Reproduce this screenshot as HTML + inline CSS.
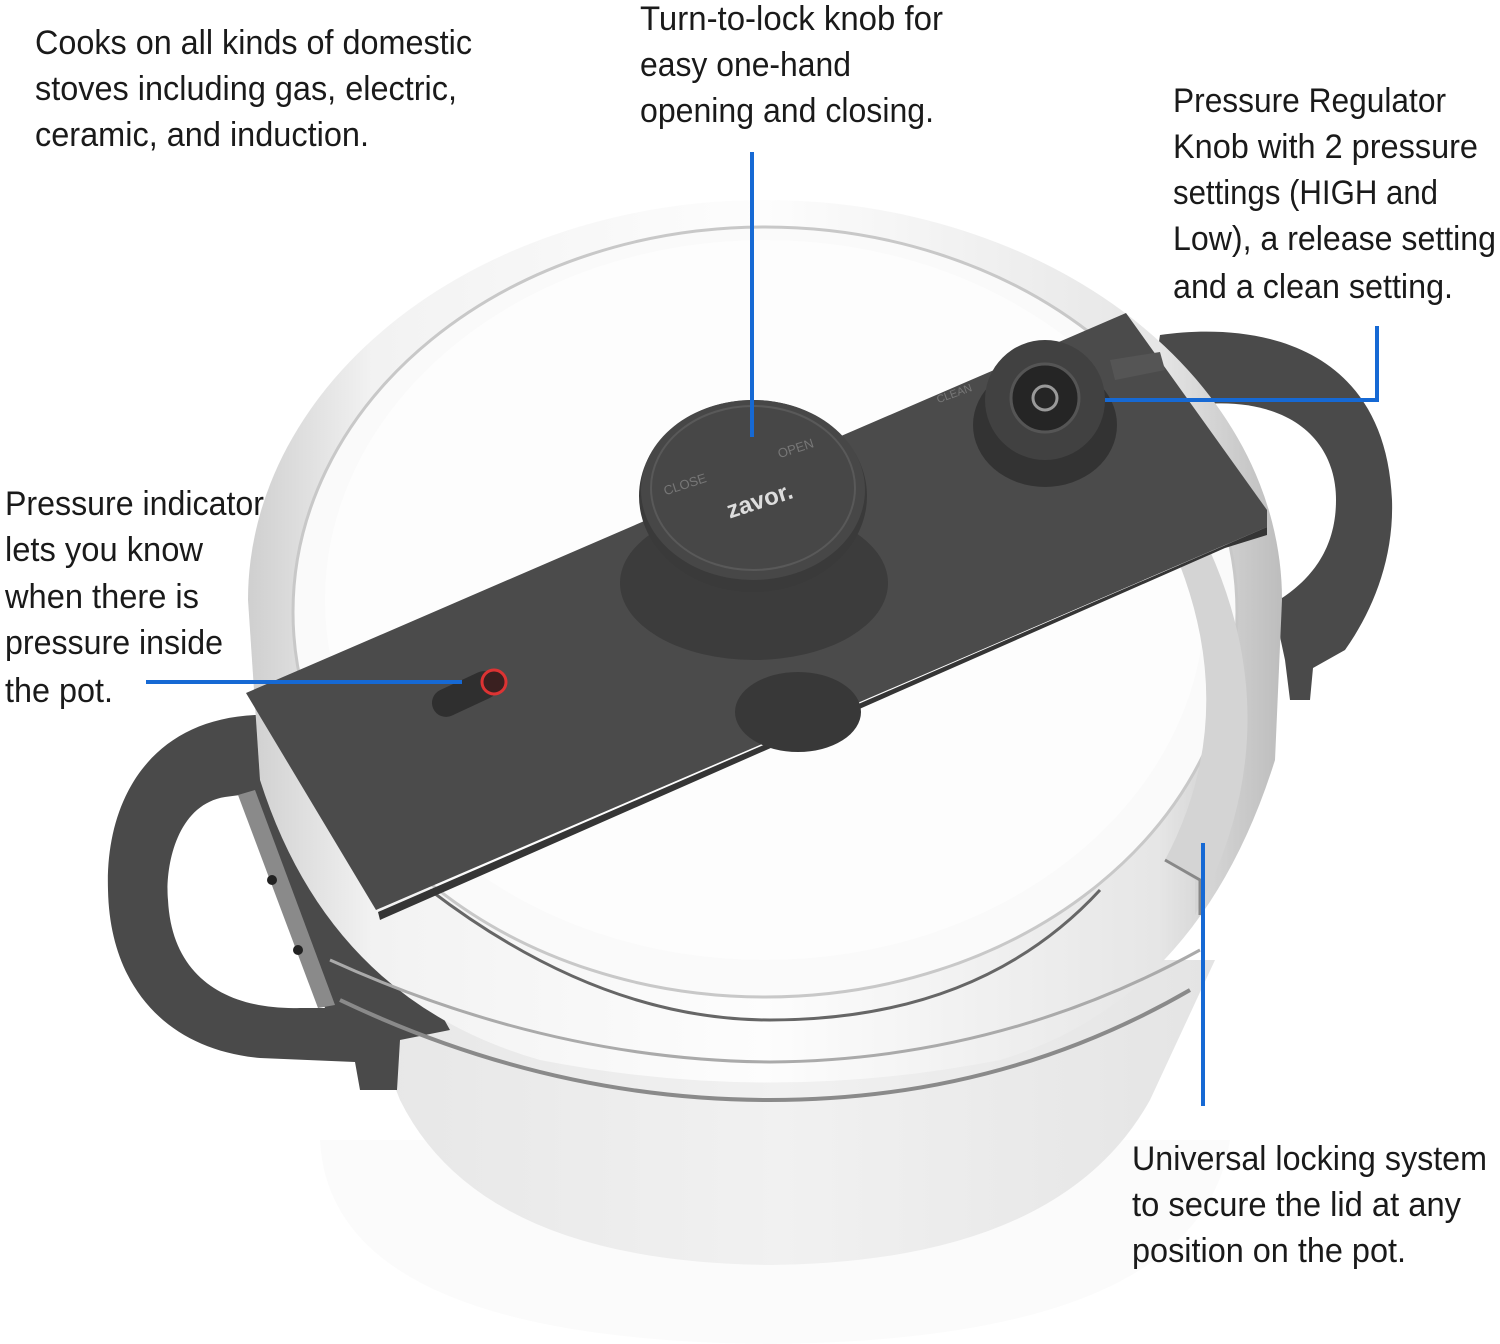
<!DOCTYPE html>
<html><head><meta charset="utf-8"><style>
html,body{margin:0;padding:0;background:#fff;}
svg{display:block;}
text{font-family:"Liberation Sans Narrow","Liberation Sans",sans-serif;font-size:34px;fill:#1a1a1a;}
</style></head><body>
<svg width="1500" height="1344" viewBox="0 0 1500 1344" xmlns="http://www.w3.org/2000/svg">
<defs>
<linearGradient id="steel" x1="0" y1="0" x2="1" y2="0">
<stop offset="0" stop-color="#cfcfcf"/><stop offset="0.12" stop-color="#f2f2f2"/><stop offset="0.5" stop-color="#fdfdfd"/><stop offset="0.88" stop-color="#e6e6e6"/><stop offset="1" stop-color="#bdbdbd"/>
</linearGradient>
<linearGradient id="body" x1="0" y1="0" x2="1" y2="0">
<stop offset="0" stop-color="#e6e6e6"/><stop offset="0.5" stop-color="#f1f1f1"/><stop offset="1" stop-color="#e4e4e4"/>
</linearGradient>
</defs>
<path d="M320 1140 Q330 1340 770 1344 Q1200 1340 1230 1140 Z" fill="#fbfbfb"/>
<!-- pot body -->
<path d="M345 960 L400 1100 Q480 1262 770 1265 Q1060 1262 1150 1100 L1215 960 Z" fill="url(#body)"/>
<!-- right handle -->
<path d="M1160 335 C1250 322 1385 340 1392 500 C1394 560 1372 612 1345 650 L1313 668 L1310 700 L1290 700 L1285 660 L1270 590 L1200 560 L1150 400 Z" fill="#4a4a4a"/>
<path d="M1205 404 C1290 398 1336 440 1336 500 C1336 548 1312 578 1282 598 L1240 560 Z" fill="#fff"/>
<!-- left handle -->
<path d="M255 715 C150 720 105 800 108 890 C110 990 170 1050 260 1058 L355 1062 L360 1090 L397 1090 L400 1040 L450 1030 L300 760 L290 715 Z" fill="#4a4a4a"/>
<path d="M225 797 C175 805 165 870 168 900 C172 980 230 1010 300 1008 L325 1008 L240 795 Z" fill="#fff"/>
<path d="M238 795 L255 790 L335 1005 L318 1008 Z" fill="#8a8a8a"/>
<circle cx="272" cy="880" r="5" fill="#222"/><circle cx="298" cy="950" r="5" fill="#222"/>
<!-- lid -->
<path d="M248 600 A517 400 0 0 1 1282 600 L1275 760 Q1200 1000 1000 1060 Q770 1105 540 1060 Q330 1000 260 780 Z" fill="url(#steel)"/>
<path d="M340 1000 Q550 1100 770 1100 Q1000 1100 1190 990" fill="none" stroke="#8a8a8a" stroke-width="4"/>
<path d="M330 960 Q550 1060 770 1062 Q1000 1060 1200 950" fill="none" stroke="#aaa" stroke-width="3"/>
<ellipse cx="765" cy="612" rx="472" ry="385" fill="#fafafa" stroke="#c8c8c8" stroke-width="3"/>
<path d="M430 890 Q600 1020 770 1020 Q980 1020 1100 890" fill="none" stroke="#666" stroke-width="3"/>
<ellipse cx="765" cy="600" rx="440" ry="360" fill="#fdfdfd"/>
<!-- right lock plate -->
<path d="M1160 520 Q1250 700 1165 860 L1195 880 L1195 915 Q1300 720 1195 520 Z" fill="#d4d4d4"/>
<path d="M1165 860 L1200 880 L1200 915" fill="none" stroke="#888" stroke-width="3"/>
<!-- band -->
<path d="M246 693 L1126 313 L1267 510 L1267 527 L376 910 Z" fill="#4b4b4b"/>
<path d="M378 912 L1267 527 L1267 535 L1225 548 L380 920 Z" fill="#353535"/>
<!-- knob -->
<ellipse cx="798" cy="712" rx="63" ry="40" fill="#383838"/>
<ellipse cx="754" cy="583" rx="134" ry="77" fill="#3c3c3c"/>
<ellipse cx="753" cy="496" rx="114" ry="96" fill="#3a3a3a"/>
<ellipse cx="753" cy="490" rx="112" ry="90" fill="#474747"/>
<ellipse cx="753" cy="488" rx="102" ry="82" fill="none" stroke="#595959" stroke-width="2"/>
<g transform="rotate(-18 753 490)">
<text x="722" y="510" style="font-family:'Liberation Sans',sans-serif;font-size:24px;font-weight:bold;fill:#ddd">zavor.</text>
<text x="668" y="468" style="font-family:'Liberation Sans',sans-serif;font-size:13px;fill:#777">CLOSE</text>
<text x="788" y="468" style="font-family:'Liberation Sans',sans-serif;font-size:13px;fill:#777">OPEN</text>
</g>
<!-- regulator -->
<ellipse cx="1045" cy="425" rx="72" ry="62" fill="#333"/>
<circle cx="1045" cy="400" r="60" fill="#414141"/>
<circle cx="1045" cy="398" r="34" fill="#252525" stroke="#555" stroke-width="3"/>
<circle cx="1045" cy="398" r="12" fill="none" stroke="#999" stroke-width="3"/>
<path d="M1110 360 L1160 352 L1165 370 L1115 380 Z" fill="#555"/>
<text x="935" y="395" transform="rotate(-20 960 390)" style="font-family:'Liberation Sans',sans-serif;font-size:11px;fill:#777">CLEAN</text>
<!-- indicator -->
<rect x="430" y="680" width="70" height="28" rx="14" fill="#2f2f2f" transform="rotate(-25 465 694)"/>
<circle cx="494" cy="682" r="12" fill="#3a2020" stroke="#d33" stroke-width="3"/>
<!-- blue callouts -->
<g stroke="#1669d4" stroke-width="4" fill="none">
<line x1="752" y1="152" x2="752" y2="437"/>
<polyline points="1377,326 1377,400 1105,400"/>
<line x1="146" y1="682" x2="462" y2="682"/>
<line x1="1203" y1="843" x2="1203" y2="1106"/>
</g>
<!-- text -->
<text x="35" y="54" textLength="437" lengthAdjust="spacingAndGlyphs">Cooks on all kinds of domestic</text>
<text x="35" y="100" textLength="422" lengthAdjust="spacingAndGlyphs">stoves including gas, electric,</text>
<text x="35" y="146" textLength="334" lengthAdjust="spacingAndGlyphs">ceramic, and induction.</text>
<text x="640" y="30" textLength="303" lengthAdjust="spacingAndGlyphs">Turn-to-lock knob for</text>
<text x="640" y="76" textLength="211" lengthAdjust="spacingAndGlyphs">easy one-hand</text>
<text x="640" y="122" textLength="294" lengthAdjust="spacingAndGlyphs">opening and closing.</text>
<text x="1173" y="112" textLength="273" lengthAdjust="spacingAndGlyphs">Pressure Regulator</text>
<text x="1173" y="158" textLength="305" lengthAdjust="spacingAndGlyphs">Knob with 2 pressure</text>
<text x="1173" y="204" textLength="265" lengthAdjust="spacingAndGlyphs">settings (HIGH and</text>
<text x="1173" y="250" textLength="323" lengthAdjust="spacingAndGlyphs">Low), a release setting</text>
<text x="1173" y="298" textLength="280" lengthAdjust="spacingAndGlyphs">and a clean setting.</text>
<text x="5" y="515" textLength="259" lengthAdjust="spacingAndGlyphs">Pressure indicator</text>
<text x="5" y="561" textLength="198" lengthAdjust="spacingAndGlyphs">lets you know</text>
<text x="5" y="608" textLength="194" lengthAdjust="spacingAndGlyphs">when there is</text>
<text x="5" y="654" textLength="218" lengthAdjust="spacingAndGlyphs">pressure inside</text>
<text x="5" y="702" textLength="108" lengthAdjust="spacingAndGlyphs">the pot.</text>
<text x="1132" y="1170" textLength="355" lengthAdjust="spacingAndGlyphs">Universal locking system</text>
<text x="1132" y="1216" textLength="329" lengthAdjust="spacingAndGlyphs">to secure the lid at any</text>
<text x="1132" y="1262" textLength="274" lengthAdjust="spacingAndGlyphs">position on the pot.</text>
</svg>
</body></html>
